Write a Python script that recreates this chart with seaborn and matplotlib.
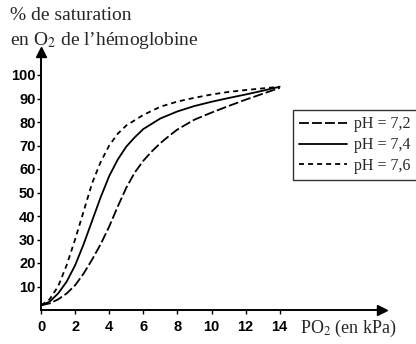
import matplotlib
matplotlib.use("Agg")
import matplotlib.pyplot as plt
import seaborn as sns

# courbes de dissociation de l'hémoglobine
po2_72 = [0, 0.5, 1.0, 1.5, 2.0, 2.5, 3.0, 3.5, 4.0, 4.5, 5.0, 5.5, 6.0, 6.5,
          7.0, 7.5, 8.0, 9.0, 10.0, 11.0, 12.0, 13.0, 14.0]
sat_72 = [2, 2.8, 4.5, 7, 10.5, 15.5, 21.5, 28, 35.5, 44, 52, 58.5, 63.5, 67.5,
          71, 74, 76.8, 81, 84, 86.8, 89.5, 92, 94.5]

po2_74 = [0, 0.5, 1.0, 1.5, 2.0, 2.5, 3.0, 3.5, 4.0, 4.5, 5.0, 5.5, 6.0, 7.0,
          8.0, 9.0, 10.0, 11.0, 12.0, 13.0, 14.0]
sat_74 = [2, 3.5, 7, 12, 19, 28, 38, 48, 57, 64, 69.5, 73.5, 77, 81.5,
          84.5, 86.8, 88.6, 90.2, 91.7, 93.3, 95]

po2_76 = [0, 0.5, 1.0, 1.5, 2.0, 2.5, 3.0, 3.5, 4.0, 4.5, 5.0, 6.0, 7.0, 8.0,
          9.0, 10.0, 11.0, 12.0, 13.0, 14.0]
sat_76 = [2, 4.5, 10, 19, 30, 42, 54, 63, 70, 75, 78.5, 83, 86.5, 88.7,
          90.3, 91.7, 92.8, 93.6, 94.3, 95]

labels = ["pH = 7,2", "pH = 7,4", "pH = 7,6"]
x_ticks = [0, 2, 4, 6, 8, 10, 12, 14]
y_ticks = [10, 20, 30, 40, 50, 60, 70, 80, 90, 100]

sns.set_style("ticks")
plt.rcParams["mathtext.fontset"] = "stix"
serif = ["Liberation Serif", "DejaVu Serif"]
sans = ["Liberation Sans Narrow", "Liberation Sans", "DejaVu Sans"]

fig = plt.figure(figsize=(4.16, 3.44), dpi=100)
ax = fig.add_axes([41 / 416, 34 / 344, 341 / 416, 258.5 / 344])

sns.lineplot(x=po2_72, y=sat_72, ax=ax, color="black", lw=1.3,
             linestyle=(0, (5.5, 1.7)), label=labels[0])
sns.lineplot(x=po2_74, y=sat_74, ax=ax, color="black", lw=1.3,
             linestyle="-", label=labels[1])
sns.lineplot(x=po2_76, y=sat_76, ax=ax, color="black", lw=1.3,
             linestyle=(0, (2.8, 2.2)), label=labels[2])

ax.set_xlim(0, 20)
ax.set_ylim(0, 110)
ax.set_xticks(x_ticks)
ax.set_yticks(y_ticks)
ax.set_xlabel("")
ax.set_ylabel("")
for s in ["top", "right"]:
    ax.spines[s].set_visible(False)
for s in ["left", "bottom"]:
    ax.spines[s].set_linewidth(1.4)
    ax.spines[s].set_color("black")
ax.tick_params(axis="both", direction="out", length=3, width=1, colors="black")
ax.tick_params(axis="x", pad=4)
ax.tick_params(axis="y", pad=1)
for t in ax.get_xticklabels() + ax.get_yticklabels():
    t.set_family(sans)
    t.set_fontweight("bold")
    t.set_fontsize(10.5)

# flèches au bout des axes
ax.plot(1, 0, ">", color="black", ms=7, transform=ax.transAxes, clip_on=False)
ax.plot(0, 1, "^", color="black", ms=7, transform=ax.transAxes, clip_on=False)

leg = ax.legend(loc="upper left", bbox_to_anchor=(293 / 416, 1 - 110 / 344),
                bbox_transform=fig.transFigure, frameon=True, fancybox=False,
                handlelength=3.0, handletextpad=0.4, borderpad=0.4,
                labelspacing=0.3, borderaxespad=0, prop={"family": serif, "size": 11.5})
leg.get_frame().set_edgecolor("black")
leg.get_frame().set_linewidth(1.0)

fig.text(10 / 416, 1 - 20 / 344, "% de saturation", family=serif, fontsize=14,
         va="baseline", ha="left")
fig.text(10 / 416, 1 - 45 / 344, "en O$_2$ de l\u2019hémoglobine", family=serif,
         fontsize=14, va="baseline", ha="left")
fig.text(300 / 416, 1 - 333 / 344, "PO$_2$ (en kPa)", family=serif, fontsize=13,
         va="baseline", ha="left")

fig.savefig("out.png", dpi=100)
